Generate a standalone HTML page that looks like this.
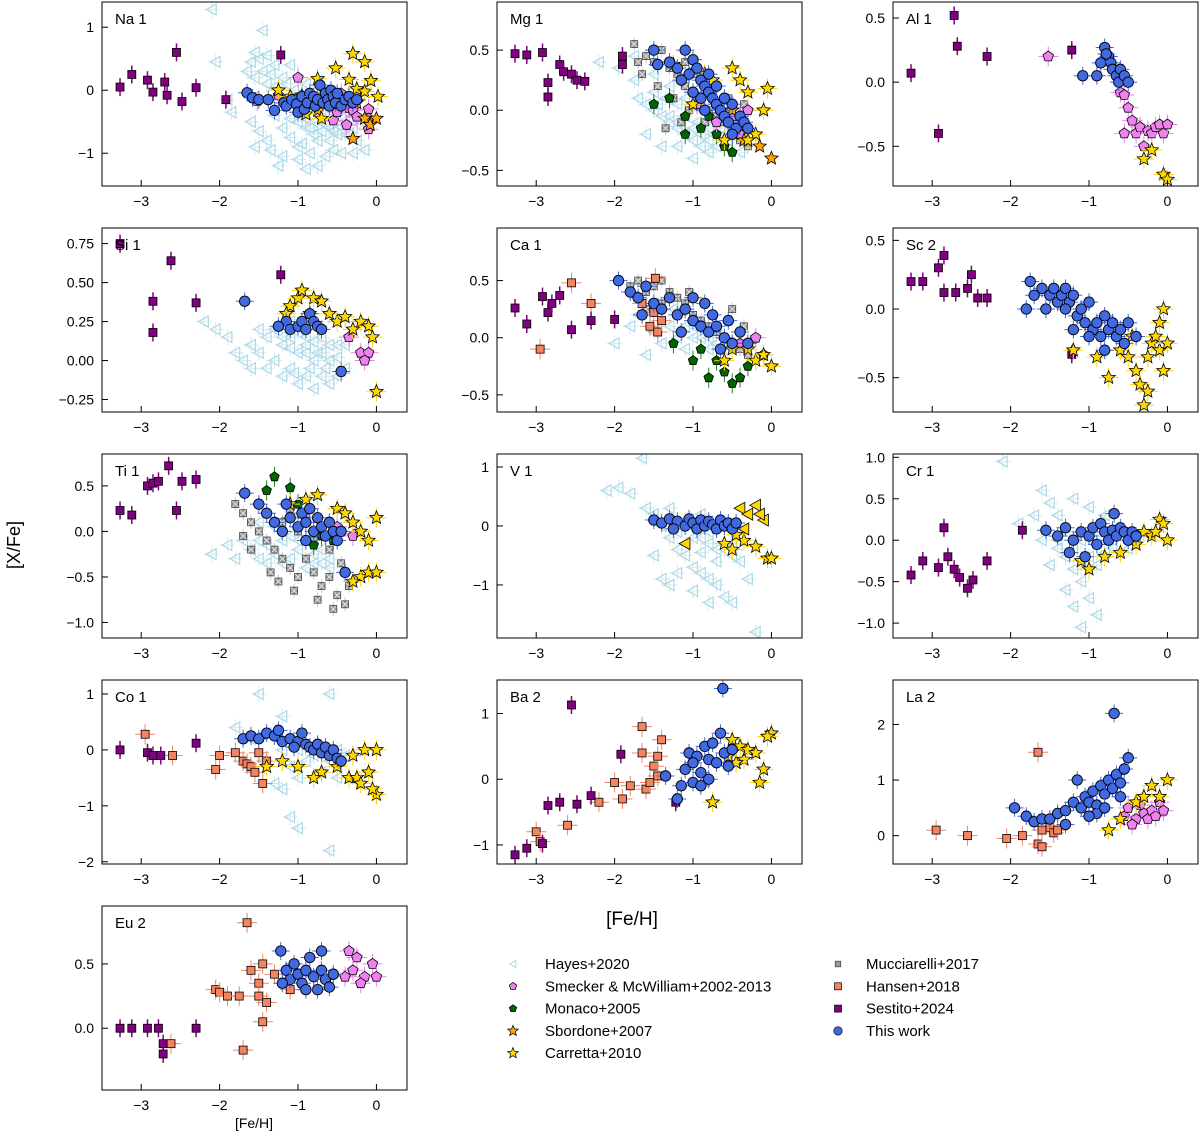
<!DOCTYPE html>
<html><head><meta charset="utf-8"><style>
html,body{margin:0;padding:0;background:#fff;}
svg{display:block;font-family:"Liberation Sans",sans-serif;}
</style></head><body>
<svg id="fig" width="1200" height="1132" viewBox="0 0 1200 1132"></svg>
<script>
// ---------- data: [Fe/H], [X/Fe] pairs (flat) ----------
const xTicks=[-3,-2,-1,0];
const xTickLabels=["−3","−2","−1","0"];
const naSestito=[-3.27,0.05,-3.12,0.25,-2.92,0.16,-2.85,-0.03,-2.7,0.13,-2.67,-0.08,-2.55,0.6,-2.48,-0.18,-2.3,0.04,-1.92,-0.15,-1.22,0.56];
const naBlue=[-1.65,-0.04,-1.58,-0.12,-1.5,-0.15,-1.38,-0.15,-1.3,-0.32,-1.18,-0.2,-1.15,-0.25,-1.08,-0.15,-1.02,-0.22,-1.0,-0.35,-0.95,-0.1,-0.92,-0.3,-0.88,-0.2,-0.85,-0.05,-0.8,-0.1,-0.78,-0.25,-0.75,-0.15,-0.72,0.08,-0.68,-0.2,-0.65,-0.05,-0.62,-0.15,-0.6,-0.25,-0.58,0.0,-0.55,-0.1,-0.52,-0.2,-0.5,-0.05,-0.45,-0.25,-0.4,-0.15,-0.35,-0.1,-0.3,-0.2,-0.25,-0.15];
const naSmecker=[-1.52,-0.17,-1.25,-0.08,-1.0,0.2,-0.55,-0.48,-0.5,-0.35,-0.45,-0.05,-0.38,-0.55,-0.35,-0.28,-0.3,-0.32,-0.25,-0.42,-0.1,-0.3,-0.1,-0.45,-0.1,-0.62];
const naCarretta=[-1.25,0.0,-0.75,0.18,-0.52,0.35,-0.3,0.58,-0.35,0.17,-0.25,0.02,-0.15,0.45,-0.15,-0.02,-0.07,0.15,0.02,-0.1,-0.7,-0.45,-1.1,-0.1,-0.95,-0.08,-0.9,-0.38];
const naSbordone=[-0.3,-0.77,-0.75,-0.32,-0.25,-0.2,-0.15,-0.45,-0.08,-0.55,0.0,-0.45];
const naHayes=[-2.1,1.28,-1.45,0.95,-2.05,0.45,-1.55,0.6,-1.5,0.5,-1.4,0.55,-1.6,0.45,-1.3,0.4,-1.2,0.2,-1.1,0.4,-1.55,0.2,-1.45,0.3,-1.35,0.25,-1.65,0.3,-1.9,-0.15,-1.85,-0.35,-1.6,-0.5,-1.5,-0.65,-1.4,-0.8,-1.55,-0.9,-1.35,-0.95,-1.2,-0.6,-1.1,-0.75,-1.0,-0.5,-0.9,-0.6,-0.8,-0.7,-0.7,-0.5,-0.6,-0.6,-0.5,-0.55,-0.4,-0.7,-1.2,-1.05,-1.0,-1.1,-0.85,-1.0,-0.75,-1.2,-0.9,-1.25,-0.65,-1.05,-0.55,-0.95,-0.45,-1.0,-0.3,-1.0,-0.15,-0.95,-0.7,-0.3,-0.5,-0.3,-0.3,-0.4,-1.05,0.0,-0.9,0.1,-1.3,-0.4,-1.0,-0.9,-0.6,-0.8,-1.25,-1.2,-0.95,-0.85,
 -0.9,-0.45,-0.8,-0.5,-0.7,-0.65,-0.6,-0.45,-0.5,-0.7,-0.4,-0.5,-0.3,-0.6,-0.2,-0.5,-0.85,-0.6,-0.65,-0.55,-0.55,-0.65,-0.45,-0.45,-0.35,-0.7,-0.25,-0.8,-0.75,-0.8,-1.1,-0.45,-1.3,0.05,-1.2,-0.15,-1.15,0.1,-1.4,0.1];

const mgSestito=[-3.27,0.47,-3.12,0.46,-2.92,0.48,-2.85,0.23,-2.85,0.11,-2.7,0.38,-2.65,0.32,-2.55,0.3,-2.48,0.25,-2.38,0.24,-1.9,0.38,-1.9,0.45];
const mgHayes=[-2.2,0.4,-1.95,0.35,-1.75,0.25,-1.7,0.1,-1.6,0.05,-1.5,0.0,-1.4,-0.05,-1.3,-0.1,-1.2,-0.15,-1.1,-0.2,-1.0,-0.25,-0.9,-0.3,-0.8,-0.35,-1.75,0.45,-1.5,0.3,-1.3,0.2,-1.1,0.1,-0.9,0.0,-0.7,-0.1,-0.5,-0.2,-1.6,-0.2,-1.4,-0.3,-1.2,-0.3,-1.0,-0.4,-1.5,0.15,-1.2,0.05,-0.8,-0.15,-0.6,-0.3,-0.4,-0.35,
 -1.3,-0.05,-1.2,-0.1,-1.0,-0.15,-0.9,-0.2,-0.8,-0.25,-0.7,-0.3,-1.1,-0.05,-0.95,-0.1,-0.75,-0.2,-0.6,-0.2,-1.45,0.05,-1.35,0.1,-0.65,-0.15,-0.55,-0.25];
const mgMucc=[-1.75,0.55,-1.6,0.45,-1.5,0.4,-1.4,0.5,-1.3,0.35,-1.2,0.3,-1.1,0.2,-1.0,0.15,-0.9,0.05,-0.8,0.0,-0.7,-0.05,-0.6,-0.1,-0.5,-0.2,-0.4,-0.25,-0.3,-0.3,-1.65,0.3,-1.45,0.2,-1.25,0.1,-1.05,0.0,-0.85,-0.1,-1.35,-0.15,-1.15,-0.1,-0.55,0.1,-0.35,0.05,-1.7,0.4,-1.1,0.4,-0.95,0.3,-0.75,0.2];
const mgBlue=[-1.1,0.5,-1.0,0.42,-0.95,0.35,-1.05,0.3,-0.9,0.25,-0.85,0.2,-0.8,0.15,-0.75,0.1,-0.7,0.05,-0.65,0.0,-0.6,-0.05,-0.55,-0.1,-0.5,0.05,-0.45,-0.15,-0.4,-0.05,-0.35,-0.1,-0.3,-0.15,-1.2,0.35,-1.15,0.25,-0.9,0.1,-0.8,0.3,-0.7,0.2,-0.6,0.1,-1.3,0.4,-1.0,0.15,-0.85,0.0,-0.5,-0.2,-1.45,0.38,-1.5,0.5];
const mgCarretta=[-1.25,0.38,-1.0,0.05,-0.75,0.25,-0.5,0.35,-0.4,0.25,-0.3,0.15,-0.05,0.18,-0.1,0.0,-0.2,-0.2,-0.85,0.3,-0.6,-0.25,-0.3,-0.25];
const mgSbordone=[0.0,-0.4,-0.15,-0.3,-0.35,-0.25,-0.5,0.0];
const mgMonaco=[-1.5,0.05,-1.3,0.1,-1.1,-0.05,-0.9,-0.15,-0.7,-0.2,-0.6,-0.3,-0.5,-0.35,-0.4,-0.15,-1.1,-0.2,-0.8,-0.05];
const mgSmecker=[-0.95,0.05,-0.7,-0.1,-0.5,-0.05,-0.4,-0.2,-0.3,0.0];

const alSestito=[-3.27,0.07,-2.92,-0.4,-2.72,0.52,-2.68,0.28,-2.3,0.2,-1.22,0.25];
const alSmecker=[-1.52,0.2,-0.6,-0.08,-0.55,-0.1,-0.5,-0.2,-0.45,-0.3,-0.4,-0.4,-0.35,-0.35,-0.3,-0.5,-0.25,-0.38,-0.2,-0.4,-0.15,-0.35,-0.1,-0.33,-0.05,-0.4,0.0,-0.33,-0.55,-0.4];
const alBlue=[-1.08,0.05,-0.9,0.05,-0.8,0.27,-0.75,0.2,-0.72,0.15,-0.7,0.1,-0.65,0.05,-0.62,0.0,-0.6,0.1,-0.55,0.05,-0.5,0.0,-0.85,0.15,-0.78,0.22];
const alCarretta=[-0.3,-0.6,-0.2,-0.53,-0.05,-0.72,0.0,-0.76];

const siSestito=[-3.27,0.75,-2.85,0.38,-2.85,0.18,-2.62,0.64,-2.3,0.37,-1.22,0.55];
const siHayes=[-2.2,0.25,-2.05,0.2,-1.9,0.15,-1.8,0.05,-1.7,0.0,-1.6,0.1,-1.5,0.05,-1.4,0.15,-1.3,0.0,-1.2,0.1,-1.1,-0.05,-1.0,0.05,-0.9,-0.1,-0.8,0.0,-0.7,-0.1,-0.6,0.0,-0.5,-0.1,-0.4,-0.05,-1.4,-0.05,-1.2,-0.1,-1.0,-0.15,-0.8,-0.18,-1.5,0.2,-1.3,0.2,-1.1,0.15,-0.9,0.1,-0.7,0.05,-0.5,0.02,-1.6,-0.05,-0.6,-0.15,-1.1,0.25,-0.95,0.2,
 -1.2,0.15,-1.0,0.18,-0.9,0.15,-0.8,0.12,-0.7,0.15,-0.6,0.1,-1.1,0.08,-0.9,0.05,-0.75,0.05,-0.5,0.1,-0.4,0.1,-0.85,-0.05,-0.65,-0.05,-1.05,-0.08];
const siBlue=[-1.68,0.38,-1.15,0.25,-1.1,0.2,-1.0,0.22,-0.95,0.25,-0.9,0.2,-0.85,0.3,-0.8,0.25,-0.75,0.22,-0.7,0.2,-1.25,0.22,-0.45,-0.07];
const siCarretta=[-1.1,0.35,-1.0,0.4,-0.95,0.45,-0.8,0.4,-0.7,0.38,-0.6,0.3,-0.5,0.25,-0.4,0.28,-0.3,0.2,-0.2,0.25,-0.1,0.22,-0.05,0.15,-1.15,0.3,-0.85,0.3,0.0,-0.2];
const siSmecker=[-0.35,0.15,-0.2,0.05,-0.1,0.05,-0.15,0.0];

const caSestito=[-3.27,0.26,-3.12,0.12,-2.92,0.36,-2.85,0.22,-2.8,0.3,-2.7,0.37,-2.55,0.07,-2.3,0.15,-2.0,0.16];
const caHansen=[-2.95,-0.1,-2.55,0.48,-2.3,0.3,-1.65,0.3,-1.48,0.52,-1.5,0.22,-1.55,0.1,-1.45,0.05,-1.4,0.15];
const caHayes=[-1.4,-0.05,-1.6,-0.15,-2.0,-0.05,-1.8,0.1,-1.7,0.2,-1.5,0.3,-1.3,0.1,-1.2,0.0,-1.1,-0.1,-1.0,0.1,-0.9,0.0,-0.8,-0.1,-0.7,0.05,-1.5,0.05,-1.25,0.25,-0.6,-0.1,-1.1,0.1,-0.9,0.1,-0.8,0.0,-0.7,-0.05,-1.0,0.0];
const caMucc=[-1.8,0.45,-1.7,0.5,-1.6,0.4,-1.5,0.45,-1.4,0.5,-1.3,0.4,-1.2,0.35,-1.1,0.3,-1.0,0.2,-0.9,0.15,-0.8,0.1,-0.7,0.05,-0.6,0.0,-0.5,-0.05,-0.4,-0.1,-0.3,-0.15,-1.6,0.25,-1.4,0.3,-1.2,0.2,-0.5,0.25,-0.35,0.1,-1.05,0.4];
const caBlue=[-1.95,0.5,-1.8,0.4,-1.7,0.35,-1.6,0.45,-1.5,0.3,-1.4,0.25,-1.3,0.35,-1.2,0.2,-1.1,0.25,-1.0,0.15,-0.9,0.1,-0.85,0.3,-0.8,0.05,-0.7,0.1,-0.6,0.0,-0.5,-0.05,-0.4,0.05,-0.3,-0.05,-1.0,0.35,-0.75,0.2,-0.55,0.15,-1.15,0.05,-0.65,-0.1,-1.65,0.2];
const caMonaco=[-1.25,-0.05,-1.0,-0.2,-0.8,-0.35,-0.7,-0.2,-0.6,-0.3,-0.5,-0.4,-0.4,-0.35,-0.3,-0.25,-0.9,-0.1];
const caCarretta=[-0.3,-0.1,-0.2,-0.2,-0.5,-0.1,-0.1,-0.15,0.0,-0.25,-0.6,-0.2];
const caSmecker=[-0.2,0.0,-0.1,-0.15,-0.4,-0.05];

const scSestito=[-3.27,0.2,-3.12,0.2,-2.92,0.3,-2.85,0.39,-2.85,0.12,-2.7,0.12,-2.55,0.15,-2.5,0.25,-2.42,0.08,-2.3,0.08,-1.22,-0.33];
const scBlue=[-1.75,0.2,-1.7,0.1,-1.6,0.15,-1.55,0.0,-1.5,0.1,-1.45,0.15,-1.4,0.05,-1.35,0.1,-1.3,0.15,-1.25,0.05,-1.2,0.1,-1.15,-0.05,-1.1,0.0,-1.05,-0.1,-1.0,0.05,-0.95,-0.15,-0.9,-0.1,-0.85,-0.2,-0.8,-0.05,-0.75,-0.15,-0.7,-0.1,-0.65,-0.2,-0.6,-0.15,-0.55,-0.25,-0.5,-0.1,-1.8,0.0,-1.2,-0.15,-1.0,-0.2,-0.8,-0.3,-1.3,0.0,-0.4,-0.2];
const scCarretta=[-0.75,-0.5,-0.6,-0.3,-0.5,-0.35,-0.4,-0.45,-0.35,-0.55,-0.3,-0.7,-0.25,-0.35,-0.2,-0.25,-0.15,-0.2,-0.1,-0.3,-0.05,-0.45,0.0,-0.25,-0.05,0.0,-0.1,-0.1,-1.2,-0.3,-0.9,-0.35,-0.25,-0.6,-0.45,-0.2];

const tiSestito=[-3.27,0.23,-3.12,0.18,-2.92,0.5,-2.85,0.53,-2.78,0.55,-2.65,0.72,-2.55,0.23,-2.48,0.55,-2.3,0.57];
const tiHayes=[-2.1,-0.25,-1.9,-0.15,-1.8,-0.3,-1.7,-0.1,-1.6,-0.2,-1.5,-0.3,-1.4,-0.15,-1.3,-0.25,-1.2,-0.35,-1.1,-0.3,-1.0,-0.2,-0.9,-0.1,-0.8,-0.25,-0.7,-0.2,-1.5,0.1,-1.3,0.05,-1.1,-0.05,-0.6,-0.4,
 -1.2,-0.1,-1.0,-0.1,-0.8,-0.35,-0.7,-0.35,-0.6,-0.3,-1.4,-0.35,-0.9,-0.4,-1.5,-0.1];
const tiMucc=[-1.8,0.3,-1.7,0.2,-1.6,0.1,-1.5,0.0,-1.4,-0.1,-1.3,-0.2,-1.2,-0.3,-1.1,-0.4,-1.0,-0.5,-0.9,-0.3,-0.8,-0.45,-0.7,-0.6,-0.6,-0.5,-0.5,-0.7,-0.4,-0.8,-0.35,-0.6,-1.6,-0.2,-1.4,0.2,-1.2,0.1,-1.0,0.0,-0.8,-0.1,-0.6,-0.2,-1.7,-0.05,-1.35,-0.45,-1.05,-0.65,-0.75,-0.75,-0.55,-0.85,-1.5,0.3,-1.1,0.25,-0.9,0.15,-1.25,-0.55,-0.45,-0.35];
const tiBlue=[-1.68,0.42,-1.5,0.3,-1.4,0.2,-1.3,0.1,-1.2,0.0,-1.1,0.15,-1.0,0.05,-0.95,0.2,-0.9,0.1,-0.85,0.25,-0.8,0.0,-0.75,0.15,-0.7,0.05,-0.65,-0.05,-0.6,0.1,-0.55,0.0,-0.5,-0.1,-1.15,0.3,-0.9,-0.1,-0.4,-0.45,-0.45,0.0];
const tiMonaco=[-1.3,0.6,-1.4,0.45,-1.1,0.48,-1.0,0.3,-0.8,-0.15,-0.7,-0.05,-0.55,-0.1];
const tiCarretta=[-1.1,0.3,-0.9,0.35,-0.75,0.4,-0.5,0.25,-0.4,0.2,-0.3,0.1,-0.2,0.0,-0.1,-0.1,0.0,0.15,-0.2,-0.5,-0.1,-0.45,-0.3,-0.55,0.0,-0.45];
const tiSmecker=[-0.5,0.05,-0.3,-0.05];

const vHayes=[-1.65,1.15,-2.1,0.6,-1.95,0.65,-1.8,0.55,-1.6,0.3,-1.5,0.2,-1.4,0.0,-1.3,-0.2,-1.2,-0.4,-1.1,-0.5,-1.0,-0.7,-0.9,-0.8,-0.8,-0.9,-0.7,-1.0,-0.6,-1.2,-0.5,-1.3,-0.2,-1.8,-1.3,0.3,-1.1,0.1,-0.9,-0.2,-0.7,-0.4,-1.2,-0.8,-1.0,-1.1,-0.8,-1.3,-0.4,-0.6,-0.3,-0.9,-1.5,-0.5,-1.4,-0.9,-1.3,-1.0,-0.9,0.2,-0.5,-0.3,
 -1.2,-0.1,-1.0,-0.2,-0.8,-0.3,-0.6,-0.4,-1.1,-0.3,-0.9,-0.45,-0.7,-0.6,-0.5,-0.5,-1.0,0.0,-0.8,-0.1];
const vBlue=[-1.5,0.1,-1.4,0.05,-1.3,0.12,-1.2,0.08,-1.1,0.0,-1.05,0.12,-1.0,0.05,-0.95,-0.05,-0.9,0.1,-0.85,0.0,-0.8,0.08,-0.75,0.02,-0.7,-0.05,-0.65,0.1,-0.6,0.0,-0.55,0.05,-0.5,-0.05,-1.25,-0.05,-0.45,0.05];
const vTriangles=[-1.1,-0.3,-0.4,0.3,-0.3,0.2,-0.2,0.35,-0.1,0.1,-0.35,-0.05,-0.15,0.2];
const vCarretta=[-0.6,-0.3,-0.5,-0.4,-0.35,-0.25,-0.2,-0.35,-0.05,-0.55,0.0,-0.55,-0.45,-0.15];

const crSestito=[-3.27,-0.42,-3.12,-0.25,-2.92,-0.33,-2.85,0.15,-2.8,-0.2,-2.72,-0.35,-2.65,-0.45,-2.55,-0.58,-2.48,-0.48,-2.3,-0.25,-1.85,0.12];
const crHayes=[-2.1,0.95,-1.6,0.6,-1.5,0.45,-1.7,0.3,-1.9,0.2,-1.4,-0.1,-1.3,-0.2,-1.2,-0.35,-1.1,-0.5,-1.0,-0.7,-0.9,-0.9,-1.2,-0.8,-1.3,-0.6,-1.1,-1.05,-1.4,0.3,-1.2,0.5,-1.0,0.4,-0.8,0.3,-1.5,-0.3,-0.7,-0.1,-1.6,0.0,-0.9,-0.3,
 -1.3,0.1,-1.1,0.0,-0.9,0.1,-0.7,0.0,-0.5,-0.1,-1.2,-0.1,-0.8,-0.15,-0.6,0.1,-0.4,0.0,-1.4,0.0,-1.0,-0.2];
const crBlue=[-1.55,0.12,-1.4,0.05,-1.3,0.15,-1.2,0.0,-1.1,0.1,-1.0,0.05,-0.95,0.15,-0.9,-0.05,-0.85,0.2,-0.8,0.1,-0.75,0.0,-0.7,0.12,-0.65,0.05,-0.6,0.15,-0.55,0.1,-0.5,0.0,-0.45,0.1,-1.25,-0.15,-0.68,0.32,-1.05,-0.2,-0.4,0.05];
const crCarretta=[-1.1,-0.25,-1.0,-0.35,-0.8,-0.2,-0.6,-0.15,-0.4,-0.05,-0.3,0.1,-0.2,0.05,-0.1,0.25,-0.05,0.2,0.0,0.0,-0.15,0.1];

const coSestito=[-3.27,0.0,-2.92,-0.05,-2.85,-0.1,-2.75,-0.1,-2.3,0.12];
const coHansen=[-2.95,0.28,-2.6,-0.1,-2.05,-0.35,-2.0,-0.1,-1.8,-0.05,-1.7,-0.2,-1.65,-0.25,-1.6,-0.3,-1.5,-0.05,-1.45,-0.6,-1.4,-0.2,-1.55,-0.4];
const coHayes=[-1.5,1.0,-0.6,1.0,-1.8,0.4,-1.6,0.2,-1.4,0.3,-1.2,0.0,-1.1,-0.3,-1.0,-0.5,-1.2,-0.7,-1.3,-0.6,-1.1,-1.2,-1.0,-1.4,-1.45,-0.2,-0.8,0.1,-0.5,0.0,-0.9,-0.2,-0.7,-0.4,-0.5,-0.5,-0.6,-1.8,-1.2,0.6,
 -1.0,0.0,-0.8,-0.1,-0.6,-0.2,-0.4,-0.1,-0.9,0.1,-0.7,0.05];
const coBlue=[-1.7,0.2,-1.6,0.25,-1.5,0.2,-1.4,0.3,-1.3,0.25,-1.2,0.15,-1.1,0.2,-1.0,0.15,-0.95,0.3,-0.9,0.1,-0.85,0.05,-0.8,0.0,-0.75,0.1,-0.7,-0.05,-0.65,0.05,-0.6,-0.1,-0.55,0.0,-0.5,-0.15,-0.45,-0.2,-1.25,0.35,-1.05,0.05];
const coCarretta=[-1.4,-0.3,-1.2,-0.2,-1.0,-0.3,-0.7,-0.4,-0.5,-0.3,-0.35,-0.5,-0.25,-0.5,-0.2,-0.6,-0.1,-0.4,0.0,-0.8,-0.05,-0.7,-0.15,0.0,0.0,0.0,-0.3,-0.1,-0.8,-0.5];

const baSestito=[-3.27,-1.15,-3.12,-1.05,-2.92,-0.98,-2.85,-0.4,-2.7,-0.35,-2.55,1.13,-2.48,-0.38,-2.3,-0.25,-1.92,0.38,-1.22,-0.35];
const baHansen=[-3.0,-0.8,-2.95,-0.95,-2.6,-0.7,-2.2,-0.35,-2.0,-0.05,-1.9,-0.3,-1.8,-0.1,-1.65,0.8,-1.6,-0.15,-1.5,0.2,-1.45,0.35,-1.55,-0.05,-1.4,0.6,-1.65,0.4,-1.45,0.05];
const baBlue=[-1.15,-0.1,-1.1,0.15,-1.05,0.4,-1.0,-0.05,-0.95,0.35,-0.9,0.1,-0.85,0.5,-0.8,0.3,-0.75,0.55,-0.7,0.25,-0.65,0.7,-0.6,0.4,-0.55,0.2,-0.5,0.45,-0.62,1.38,-1.35,0.05,-1.2,-0.3,-0.8,0.0,-0.9,-0.1,-1.0,0.25];
const baCarretta=[-0.5,0.6,-0.4,0.5,-0.35,0.3,-0.3,0.45,-0.2,0.4,-0.1,0.15,-0.15,-0.05,0.0,0.7,-0.05,0.65,-0.45,0.25,-0.55,0.35,-0.75,-0.35];

const laHansen=[-2.95,0.1,-2.55,0.0,-2.05,-0.05,-1.85,0.0,-1.65,-0.15,-1.6,-0.2,-1.65,1.5,-1.5,0.15,-1.45,0.05,-1.4,0.1,-1.6,0.1];
const laBlue=[-1.95,0.5,-1.8,0.35,-1.7,0.25,-1.6,0.3,-1.5,0.3,-1.4,0.4,-1.3,0.45,-1.2,0.6,-1.1,0.5,-1.05,0.7,-1.0,0.6,-0.95,0.8,-0.9,0.55,-0.85,0.9,-0.8,0.75,-0.75,1.0,-0.7,0.85,-0.65,1.1,-0.6,0.95,-0.55,1.2,-0.5,1.4,-0.68,2.2,-1.15,1.0,-0.9,0.4,-1.3,0.2,-0.8,0.5,-0.6,0.7,-1.0,0.35];
const laSmecker=[-0.55,0.35,-0.5,0.5,-0.4,0.3,-0.35,0.55,-0.3,0.4,-0.25,0.3,-0.2,0.45,-0.15,0.35,-0.1,0.6,-0.05,0.45,-0.45,0.2];
const laCarretta=[0.0,1.0,-0.2,0.9,-0.4,0.6,-0.1,0.7,-0.3,0.7,-0.6,0.3,-0.75,0.1];

const euSestito=[-3.27,0.0,-3.12,0.0,-2.92,0.0,-2.78,0.0,-2.72,-0.12,-2.72,-0.2,-2.3,0.0];
const euHansen=[-2.62,-0.12,-2.05,0.3,-2.0,0.28,-1.9,0.25,-1.75,0.25,-1.65,0.82,-1.7,-0.17,-1.6,0.45,-1.5,0.35,-1.45,0.5,-1.45,0.05,-1.4,0.2,-1.3,0.42,-1.5,0.25,-1.1,0.3];
const euBlue=[-1.22,0.6,-1.15,0.45,-1.1,0.38,-1.05,0.5,-1.0,0.42,-0.95,0.35,-0.9,0.45,-0.85,0.55,-0.8,0.4,-0.75,0.3,-0.7,0.45,-0.65,0.38,-0.6,0.32,-0.55,0.42,-1.2,0.35,-0.7,0.6,-0.9,0.3];
const euSmecker=[-0.35,0.6,-0.25,0.55,-0.15,0.4,-0.05,0.5,0.0,0.4,-0.3,0.45,-0.4,0.4,-0.2,0.35];

// ---------- panels ----------
const colX=[102,497,893], rowY=[2,228,454,680,906], PW=305, PH=184, XMIN=-3.5, XMAX=0.39;
const panels=[
 {id:'na',label:'Na 1',c:0,r:0,y:[-1.52,1.4],yt:[-1,0,1],ytl:["−1","0","1"],s:{hayes:naHayes,sestito:naSestito,smecker:naSmecker,sbordone:naSbordone,carretta:naCarretta,blue:naBlue}},
 {id:'mg',label:'Mg 1',c:1,r:0,y:[-0.63,0.9],yt:[-0.5,0,0.5],ytl:["−0.5","0.0","0.5"],s:{hayes:mgHayes,mucc:mgMucc,sestito:mgSestito,monaco:mgMonaco,smecker:mgSmecker,sbordone:mgSbordone,carretta:mgCarretta,blue:mgBlue}},
 {id:'al',label:'Al 1',c:2,r:0,y:[-0.81,0.625],yt:[-0.5,0,0.5],ytl:["−0.5","0.0","0.5"],s:{sestito:alSestito,smecker:alSmecker,carretta:alCarretta,blue:alBlue}},
 {id:'si',label:'Si 1',c:0,r:1,y:[-0.33,0.85],yt:[-0.25,0,0.25,0.5,0.75],ytl:["−0.25","0.00","0.25","0.50","0.75"],s:{hayes:siHayes,sestito:siSestito,smecker:siSmecker,carretta:siCarretta,blue:siBlue}},
 {id:'ca',label:'Ca 1',c:1,r:1,y:[-0.65,0.96],yt:[-0.5,0,0.5],ytl:["−0.5","0.0","0.5"],s:{hayes:caHayes,mucc:caMucc,hansen:caHansen,sestito:caSestito,monaco:caMonaco,smecker:caSmecker,carretta:caCarretta,blue:caBlue}},
 {id:'sc',label:'Sc 2',c:2,r:1,y:[-0.75,0.59],yt:[-0.5,0,0.5],ytl:["−0.5","0.0","0.5"],s:{sestito:scSestito,carretta:scCarretta,blue:scBlue}},
 {id:'ti',label:'Ti 1',c:0,r:2,y:[-1.17,0.85],yt:[-1,-0.5,0,0.5],ytl:["−1.0","−0.5","0.0","0.5"],s:{hayes:tiHayes,mucc:tiMucc,sestito:tiSestito,monaco:tiMonaco,smecker:tiSmecker,carretta:tiCarretta,blue:tiBlue}},
 {id:'v',label:'V 1',c:1,r:2,y:[-1.9,1.22],yt:[-1,0,1],ytl:["−1","0","1"],s:{hayes:vHayes,tri:vTriangles,carretta:vCarretta,blue:vBlue}},
 {id:'cr',label:'Cr 1',c:2,r:2,y:[-1.18,1.04],yt:[-1,-0.5,0,0.5,1],ytl:["−1.0","−0.5","0.0","0.5","1.0"],s:{hayes:crHayes,sestito:crSestito,carretta:crCarretta,blue:crBlue}},
 {id:'co',label:'Co 1',c:0,r:3,y:[-2.04,1.25],yt:[-2,-1,0,1],ytl:["−2","−1","0","1"],s:{hayes:coHayes,hansen:coHansen,sestito:coSestito,carretta:coCarretta,blue:coBlue}},
 {id:'ba',label:'Ba 2',c:1,r:3,y:[-1.29,1.51],yt:[-1,0,1],ytl:["−1","0","1"],s:{hansen:baHansen,sestito:baSestito,carretta:baCarretta,blue:baBlue}},
 {id:'la',label:'La 2',c:2,r:3,y:[-0.51,2.8],yt:[0,1,2],ytl:["0","1","2"],s:{hansen:laHansen,smecker:laSmecker,carretta:laCarretta,blue:laBlue}},
 {id:'eu',label:'Eu 2',c:0,r:4,y:[-0.48,0.95],yt:[0,0.5],ytl:["0.0","0.5"],s:{hansen:euHansen,sestito:euSestito,smecker:euSmecker,blue:euBlue}}
];
const NS='http://www.w3.org/2000/svg';
const svg=document.getElementById('fig');
function mk(tag,attrs,parent){const e=document.createElementNS(NS,tag);for(const k in attrs)e.setAttribute(k,attrs[k]);parent.appendChild(e);return e;}
function star(cx,cy,R){let p=[];for(let i=0;i<10;i++){const a=-Math.PI/2+i*Math.PI/5,r=i%2?R*0.45:R;p.push((cx+r*Math.cos(a)).toFixed(1)+','+(cy+r*Math.sin(a)).toFixed(1));}return p.join(' ');}
function pent(cx,cy,R){let p=[];for(let i=0;i<5;i++){const a=-Math.PI/2+i*2*Math.PI/5;p.push((cx+R*Math.cos(a)).toFixed(1)+','+(cy+R*Math.sin(a)).toFixed(1));}return p.join(' ');}
function tri(cx,cy,R){return (cx-R)+','+cy+' '+(cx+R*0.8)+','+(cy-R)+' '+(cx+R*0.8)+','+(cy+R);}
const order=['hayes','mucc','hansen','sestito','monaco','smecker','sbordone','carretta','tri','blue'];
function drawMarker(g,kind,px,py){
  let e;
  if(kind==='hayes'){mk('line',{x1:px-8,y1:py,x2:px+8,y2:py,stroke:'#d4ebf2','stroke-width':1},g);mk('line',{x1:px,y1:py-8,x2:px,y2:py+8,stroke:'#d4ebf2','stroke-width':1},g);e=mk('polygon',{points:tri(px,py,5.5),fill:'none',stroke:'#add8e6','stroke-width':1.2},g);}
  else if(kind==='mucc'){mk('line',{x1:px,y1:py-7,x2:px,y2:py+7,stroke:'#ccc','stroke-width':1},g);e=mk('rect',{x:px-3.5,y:py-3.5,width:7,height:7,fill:'#999',stroke:'#444','stroke-width':0.8},g);mk('path',{d:`M${px-3} ${py-3}L${px+3} ${py+3}M${px+3} ${py-3}L${px-3} ${py+3}`,stroke:'#eee','stroke-width':0.8},g);}
  else if(kind==='hansen'){mk('line',{x1:px-10,y1:py,x2:px+10,y2:py,stroke:'#f4845f','stroke-width':1},g);mk('line',{x1:px,y1:py-10,x2:px,y2:py+10,stroke:'#f4845f','stroke-width':1},g);e=mk('rect',{x:px-4,y:py-4,width:8,height:8,fill:'#f4845f',stroke:'#000','stroke-width':0.8},g);}
  else if(kind==='sestito'){mk('line',{x1:px,y1:py-9,x2:px,y2:py+9,stroke:'#800080','stroke-width':1.5},g);e=mk('rect',{x:px-4,y:py-4,width:8,height:8,fill:'#800080',stroke:'#000','stroke-width':0.8},g);}
  else if(kind==='monaco'){mk('line',{x1:px,y1:py-10,x2:px,y2:py+10,stroke:'#1a8a1a','stroke-width':1},g);e=mk('polygon',{points:pent(px,py,5),fill:'#006400',stroke:'#000','stroke-width':0.8},g);}
  else if(kind==='smecker'){mk('line',{x1:px-10,y1:py,x2:px+10,y2:py,stroke:'#ee82ee','stroke-width':1},g);mk('line',{x1:px,y1:py-10,x2:px,y2:py+10,stroke:'#ee82ee','stroke-width':1},g);e=mk('polygon',{points:pent(px,py,5.5),fill:'#ee82ee',stroke:'#000','stroke-width':0.8},g);}
  else if(kind==='sbordone'){e=mk('polygon',{points:star(px,py,7),fill:'#ffa500',stroke:'#000','stroke-width':0.8},g);}
  else if(kind==='carretta'){mk('line',{x1:px-10,y1:py,x2:px+10,y2:py,stroke:'#ffd700','stroke-width':1},g);mk('line',{x1:px,y1:py-10,x2:px,y2:py+10,stroke:'#ffd700','stroke-width':1},g);e=mk('polygon',{points:star(px,py,7),fill:'#ffd700',stroke:'#000','stroke-width':0.8},g);}
  else if(kind==='tri'){e=mk('polygon',{points:tri(px,py,6),fill:'#ffd700',stroke:'#000','stroke-width':0.8},g);}
  else {mk('line',{x1:px-9,y1:py,x2:px+9,y2:py,stroke:'#4169e1','stroke-width':1},g);mk('line',{x1:px,y1:py-9,x2:px,y2:py+9,stroke:'#4169e1','stroke-width':1},g);e=mk('circle',{cx:px,cy:py,r:5.2,fill:'#4169e1',stroke:'#000','stroke-width':0.9},g);}
  return e;
}
panels.forEach(p=>{
  const L=colX[p.c],T=rowY[p.r];
  const sx=v=>L+(v-XMIN)/(XMAX-XMIN)*PW;
  const sy=v=>T+(p.y[1]-v)/(p.y[1]-p.y[0])*PH;
  const g=mk('g',{},svg);
  
  
  const clip=mk('clipPath',{id:'clip-'+p.id},g);mk('rect',{x:L,y:T,width:PW,height:PH},clip);
  const mg=mk('g',{'clip-path':'url(#clip-'+p.id+')'},g);
  order.forEach(k=>{const arr=p.s[k];if(!arr)return;
    const sg=mk('g',{},mg);
    
    
    for(let i=0;i<arr.length;i+=2){const m=drawMarker(sg,k,sx(arr[i]),sy(arr[i+1]));
      
      }
  });
  const fr=mk('rect',{x:L,y:T,width:PW,height:PH,fill:'none',stroke:'#000','stroke-width':1},g);
  
  
  xTicks.forEach((t,i)=>{const x=sx(t);mk('line',{x1:x,y1:T+PH,x2:x,y2:T+PH-6,stroke:'#000'},g);
    const tx=mk('text',{x:x,y:T+PH+20,'text-anchor':'middle','font-size':14},g);tx.textContent=xTickLabels[i];
    
    });
  p.yt.forEach((t,i)=>{const y=sy(t);mk('line',{x1:L,y1:y,x2:L+6,y2:y,stroke:'#000'},g);
    const tx=mk('text',{x:L-8,y:y+5,'text-anchor':'end','font-size':14},g);tx.textContent=p.ytl[i];
    
    });
  const lb=mk('text',{x:L+13,y:T+22,'font-size':15},g);lb.textContent=p.label;
  
  
});
// axis titles
let t=mk('text',{x:20,y:545,'font-size':18,'text-anchor':'middle',transform:'rotate(-90 20 545)'},svg);t.textContent='[X/Fe]';


t=mk('text',{x:632,y:925,'font-size':19,'text-anchor':'middle'},svg);t.textContent='[Fe/H]';


t=mk('text',{x:254,y:1128,'font-size':14,'text-anchor':'middle'},svg);t.textContent='[Fe/H]';


// legend
const legKinds=['hayes','smecker','monaco','sbordone','carretta','mucc','hansen','sestito','blue'];
const legLabels=['Hayes+2020','Smecker & McWilliam+2002-2013','Monaco+2005','Sbordone+2007','Carretta+2010','Mucciarelli+2017','Hansen+2018','Sestito+2024','This work'];
const lg=mk('g',{},svg);


legKinds.forEach((k,i)=>{
  const col=i<5?0:1,row=i<5?i:i-5;
  const mx=col?838:513,tx=col?866:545,y=964+row*22.3;
  const eg=mk('g',{},lg);
  
  
  const s=mk('g',{transform:`translate(${mx} ${y}) scale(0.7) translate(${-mx} ${-y})`},eg);
  if(k==='hayes')mk('polygon',{points:tri(mx,y,5),fill:'none',stroke:'#add8e6','stroke-width':1.4},s);
  else if(k==='smecker')mk('polygon',{points:pent(mx,y,5.5),fill:'#ee82ee',stroke:'#000','stroke-width':1},s);
  else if(k==='monaco')mk('polygon',{points:pent(mx,y,5.5),fill:'#006400',stroke:'#000','stroke-width':1},s);
  else if(k==='sbordone')mk('polygon',{points:star(mx,y,8),fill:'#ffa500',stroke:'#000','stroke-width':1},s);
  else if(k==='carretta')mk('polygon',{points:star(mx,y,8),fill:'#ffd700',stroke:'#000','stroke-width':1},s);
  else if(k==='mucc')mk('rect',{x:mx-4,y:y-4,width:8,height:8,fill:'#999',stroke:'#444'},s);
  else if(k==='hansen')mk('rect',{x:mx-5,y:y-5,width:10,height:10,fill:'#f4845f',stroke:'#000'},s);
  else if(k==='sestito')mk('rect',{x:mx-5,y:y-5,width:10,height:10,fill:'#800080',stroke:'#000'},s);
  else mk('circle',{cx:mx,cy:y,r:6,fill:'#4169e1',stroke:'#000'},s);
  const tt=mk('text',{x:tx,y:y+5,'font-size':15},eg);tt.textContent=legLabels[i];
});
</script>
</body></html>
